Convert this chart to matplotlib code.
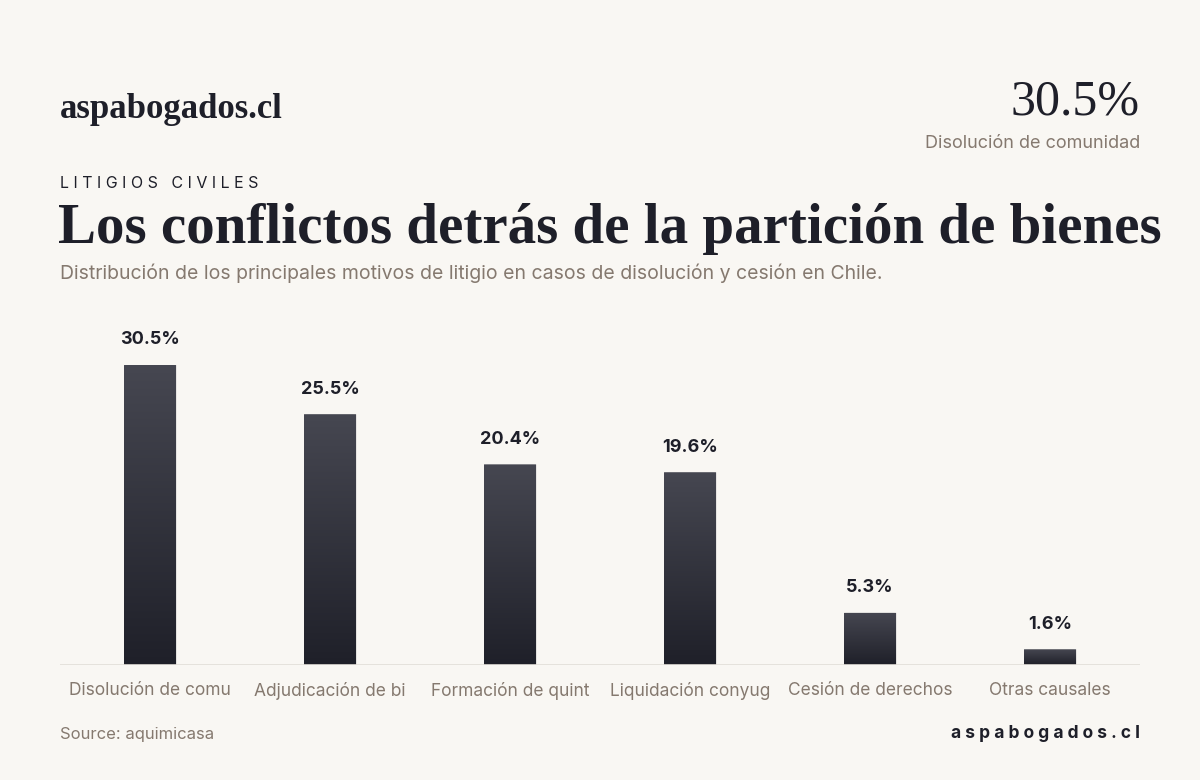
import matplotlib
matplotlib.use("Agg")
import matplotlib.pyplot as plt
import numpy as np
from matplotlib.patches import FancyBboxPatch

categories = ["Disolución de comu", "Adjudicación de bi", "Formación de quint",
              "Liquidación conyug", "Cesión de derechos", "Otras causales"]
values = [30.5, 25.5, 20.4, 19.6, 5.3, 1.6]
labels = ["30.5%", "25.5%", "20.4%", "19.6%", "5.3%", "1.6%"]

BG = "#f9f7f3"; DARK = "#1e1f29"; GRAY = "#85796f"
plt.rcParams['font.family'] = ['Inter', 'DejaVu Sans']
fig = plt.figure(figsize=(12, 7.8), dpi=100, facecolor=BG)
W, H = 1200, 780
ax = fig.add_axes([60/W, 1-665/H, 1080/W, 314.75/H])
ax.set_facecolor(BG)
ax.set_xlim(-0.5, 5.5); ax.set_ylim(0, 32)
for s in ax.spines.values(): s.set_visible(False)
ax.axhline(0, color="#e2ded8", lw=1.2, zorder=5)
ax.set_yticks([])
ax.set_xticks(range(len(categories)))
ax.set_xticklabels(categories, color=GRAY, fontsize=12.5)
ax.tick_params(axis='x', length=0, pad=12)

grad = np.linspace(0, 1, 256).reshape(-1, 1)
cmap = matplotlib.colors.LinearSegmentedColormap.from_list("g", ["#1f2029", "#464751"])
bw = 0.29
for i, v in enumerate(values):
    p = FancyBboxPatch((i-bw/2, 0), bw, v, boxstyle="round,pad=0,rounding_size=0.02",
                       mutation_aspect=0.35, fc="none", ec="none")
    ax.add_patch(p)
    im = ax.imshow(grad, extent=[i-bw/2, i+bw/2, 0, v], origin='lower', cmap=cmap,
                   aspect='auto', zorder=2)
    im.set_clip_path(p)
    ax.annotate(labels[i], (i, v), xytext=(0, 12), textcoords='offset points',
                ha='center', va='bottom', fontsize=13, fontweight='bold', color=DARK)
ax.set_xlim(-0.5, 5.5); ax.set_ylim(0, 32)

def T(x, y, s, **kw):
    fig.text(x/W, 1-y/H, s, **kw)
serif = ['Liberation Serif', 'DejaVu Serif']
T(60, 110, "aspabogados.cl", family=serif, fontsize=25, fontweight='bold', color=DARK, va='center')
T(1140, 102, "30.5%", family=serif, fontsize=36, color=DARK, va='center', ha='right')
T(1140, 143, "Disolución de comunidad", fontsize=13, color=GRAY, va='center', ha='right')
T(60, 183, "L I T I G I O S   C I V I L E S", fontsize=11.5, color=DARK, va='center')
T(58, 229, "Los conflictos detrás de la partición de bienes", family=serif, fontsize=41,
  fontweight='bold', color=DARK, va='center')
T(60, 273, "Distribución de los principales motivos de litigio en casos de disolución y cesión en Chile.",
  fontsize=14, color=GRAY, va='center')
T(60, 734, "Source: aquimicasa", fontsize=12, color=GRAY, va='center')
T(1140, 734, "a s p a b o g a d o s . c l", fontsize=12.5, fontweight='bold', color=DARK,
  va='center', ha='right')
fig.savefig("out.png", dpi=100, facecolor=BG)
